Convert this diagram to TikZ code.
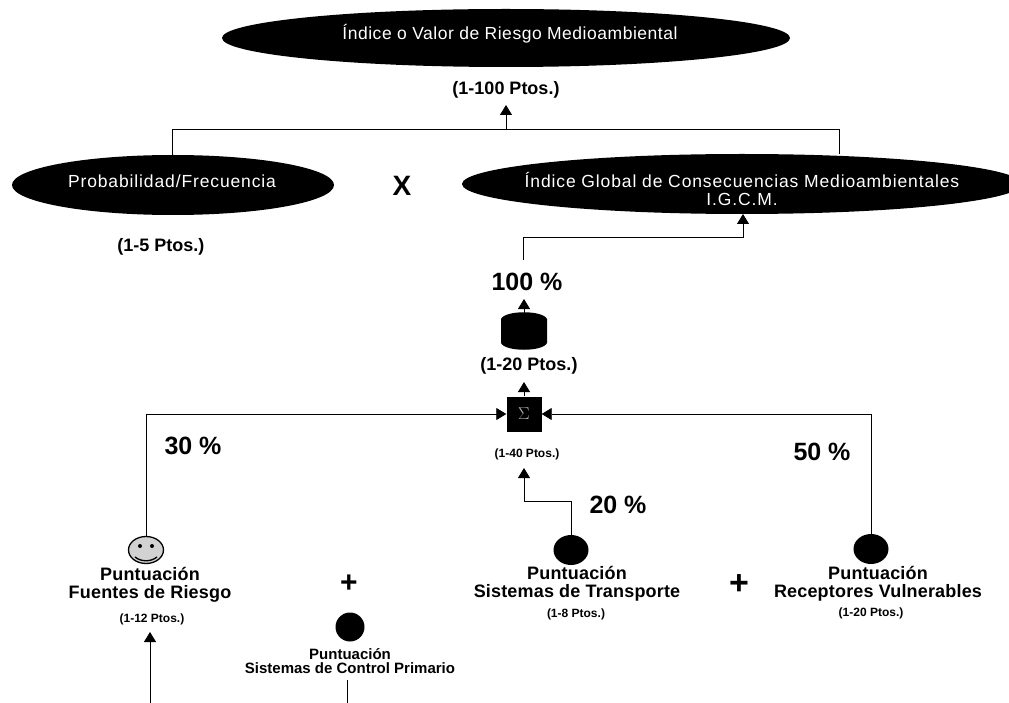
\documentclass[tikz,border=0pt]{standalone}
\usepackage{fontspec}
\setmainfont{Liberation Sans}
\newfontfamily\wideA[LetterSpace=5]{Liberation Sans}
\newfontfamily\wideT[LetterSpace=3]{Liberation Sans}
\newfontfamily\wideB[LetterSpace=1]{Liberation Sans}
\usetikzlibrary{shapes.geometric,arrows.meta}
\tikzset{
 blackell/.style={ellipse,fill=black,inner sep=0pt},
 elltext/.style={inner sep=0pt,align=center,text=white,font=\wideA\fontsize{17.5}{18}\selectfont},
 dot/.style={circle,fill=black,inner sep=0pt},
 flatdot/.style={ellipse,fill=black,inner sep=0pt,minimum width=35pt,minimum height=30pt},
 lab/.style={inner sep=0pt,align=center,font=\wideB\bfseries\fontsize{18}{18}\selectfont},
 small/.style={inner sep=0pt,align=center,font=\bfseries\fontsize{12}{12}\selectfont},
 mid/.style={inner sep=0pt,align=center,font=\bfseries\fontsize{18}{18}\selectfont},
 pct/.style={inner sep=0pt,font=\bfseries\fontsize{25}{26}\selectfont},
 conn/.style={line width=0.8pt},
 arr/.style={line width=0.8pt,-{Triangle[length=10pt,width=12pt]}},
}
\begin{document}
\begin{tikzpicture}[x=1pt,y=-1pt]
\useasboundingbox (0,0) rectangle (1009,703);
\node[blackell,minimum width=568pt,minimum height=58pt] (top) at (506,38) {};
\node[elltext,font=\wideT\fontsize{17.5}{18}\selectfont] (toptxt) at (510,34) {Índice o Valor de Riesgo Medioambiental};
\node[mid] (t100) at (506,90) {(1-100 Ptos.)};
\node[blackell,minimum width=322pt,minimum height=60pt] (prob) at (173,185) {};
\node[elltext] (probtxt) at (172,181) {Probabilidad/Frecuencia};
\node[blackell,minimum width=560pt,minimum height=60pt] (igcm) at (742,184) {};
\node[elltext] (igcmtxt) at (742,189) {Índice Global de Consecuencias Medioambientales\\I.G.C.M.};
\node[inner sep=0pt,font=\bfseries\fontsize{28}{28}\selectfont] (x) at (402,186) {X};
\node[mid] (t5) at (161,247) {(1-5 Ptos.)};
\node[pct] (p100) at (527,282) {100 \%};
% cylinder body, with its invisible anchor node
\node[inner sep=0pt,minimum width=46pt,minimum height=36pt] (cyl) at (524,331) {};
\fill (501,319) .. controls (505,310) and (543,310) .. (547,319) -- (547,343) .. controls (543,352) and (505,352) .. (501,343) -- cycle;
\node[mid] (t20) at (529,366) {(1-20 Ptos.)};
\node[fill=black,text=gray!60,minimum size=35pt,inner sep=0pt,font=\fontsize{18}{18}\selectfont] (sum) at (524,414) {$\Sigma$};
\node[small] (t40) at (527,454) {(1-40 Ptos.)};
\node[pct] (p30) at (193,446) {30 \%};
\node[pct] (p50) at (822,452) {50 \%};
\node[pct] (p20) at (618,505) {20 \%};
% smiley
\node[ellipse,draw=black,line width=1.3pt,fill=gray!35,minimum width=35pt,minimum height=27pt,inner sep=0pt] (smile) at (146,550) {};
\fill (140,546) circle (2pt);
\fill (152,546) circle (2pt);
\draw[line width=1.3pt] (135,557) .. controls (141,562) and (151,562) .. (157,557);
\node[lab] (pf) at (150,585) {Puntuación\\Fuentes de Riesgo};
\node[small] (t12) at (152,619) {(1-12 Ptos.)};
\node[inner sep=0pt,font=\bfseries\fontsize{30}{30}\selectfont] (plus1) at (349,584) {+};
\node[dot,minimum size=29pt] (d1) at (350,627) {};
\node[inner sep=0pt,align=center,font=\bfseries\fontsize{15}{14}\selectfont] (psc) at (350,661) {Puntuación\\Sistemas de Control Primario};
\node[flatdot] (d2) at (571,550) {};
\node[lab] (pst) at (577,584) {Puntuación\\Sistemas de Transporte};
\node[small] (t8) at (576,614) {(1-8 Ptos.)};
\node[inner sep=0pt,font=\bfseries\fontsize{34}{34}\selectfont] (plus2) at (739,585) {+};
\node[flatdot] (d3) at (871,549) {};
\node[lab] (prv) at (878,584) {Puntuación\\Receptores Vulnerables};
\node[small] (t20b) at (871,613) {(1-20 Ptos.)};
% free ends
\coordinate (a100) at (523,260);
\coordinate (b12) at (150,703);
\coordinate (b1) at (347,703);
\coordinate (u40) at (524,468);
\coordinate (corner2) at (524,501);
\coordinate (s1) at (172,155);
\coordinate (s2) at (839,154);
\coordinate (tbar) at (506,129);
\coordinate (b1top) at (347,680);
% connectors
\draw[conn] (s1) -- (172,129) -- (839,129) -- (s2);
\draw[arr] (tbar) -- (506,105);
\draw[arr] (a100) -- (523,237) -- (743,237) -- (743,214);
\draw[arr] (cyl.north) -- (524,299);
\draw[arr] (sum.north) -- (524,382);
\draw[arr] (smile.north) -- (146,414) -- (sum.west);
\draw[arr] (d3.north) -- (871,414) -- (sum.east);
\draw[arr] (d2.north) -- (571,501) -- (corner2) -- (u40);
\draw[arr] (b12) -- (150,632);
\draw[conn] (b1) -- (b1top);
\end{tikzpicture}
\end{document}
